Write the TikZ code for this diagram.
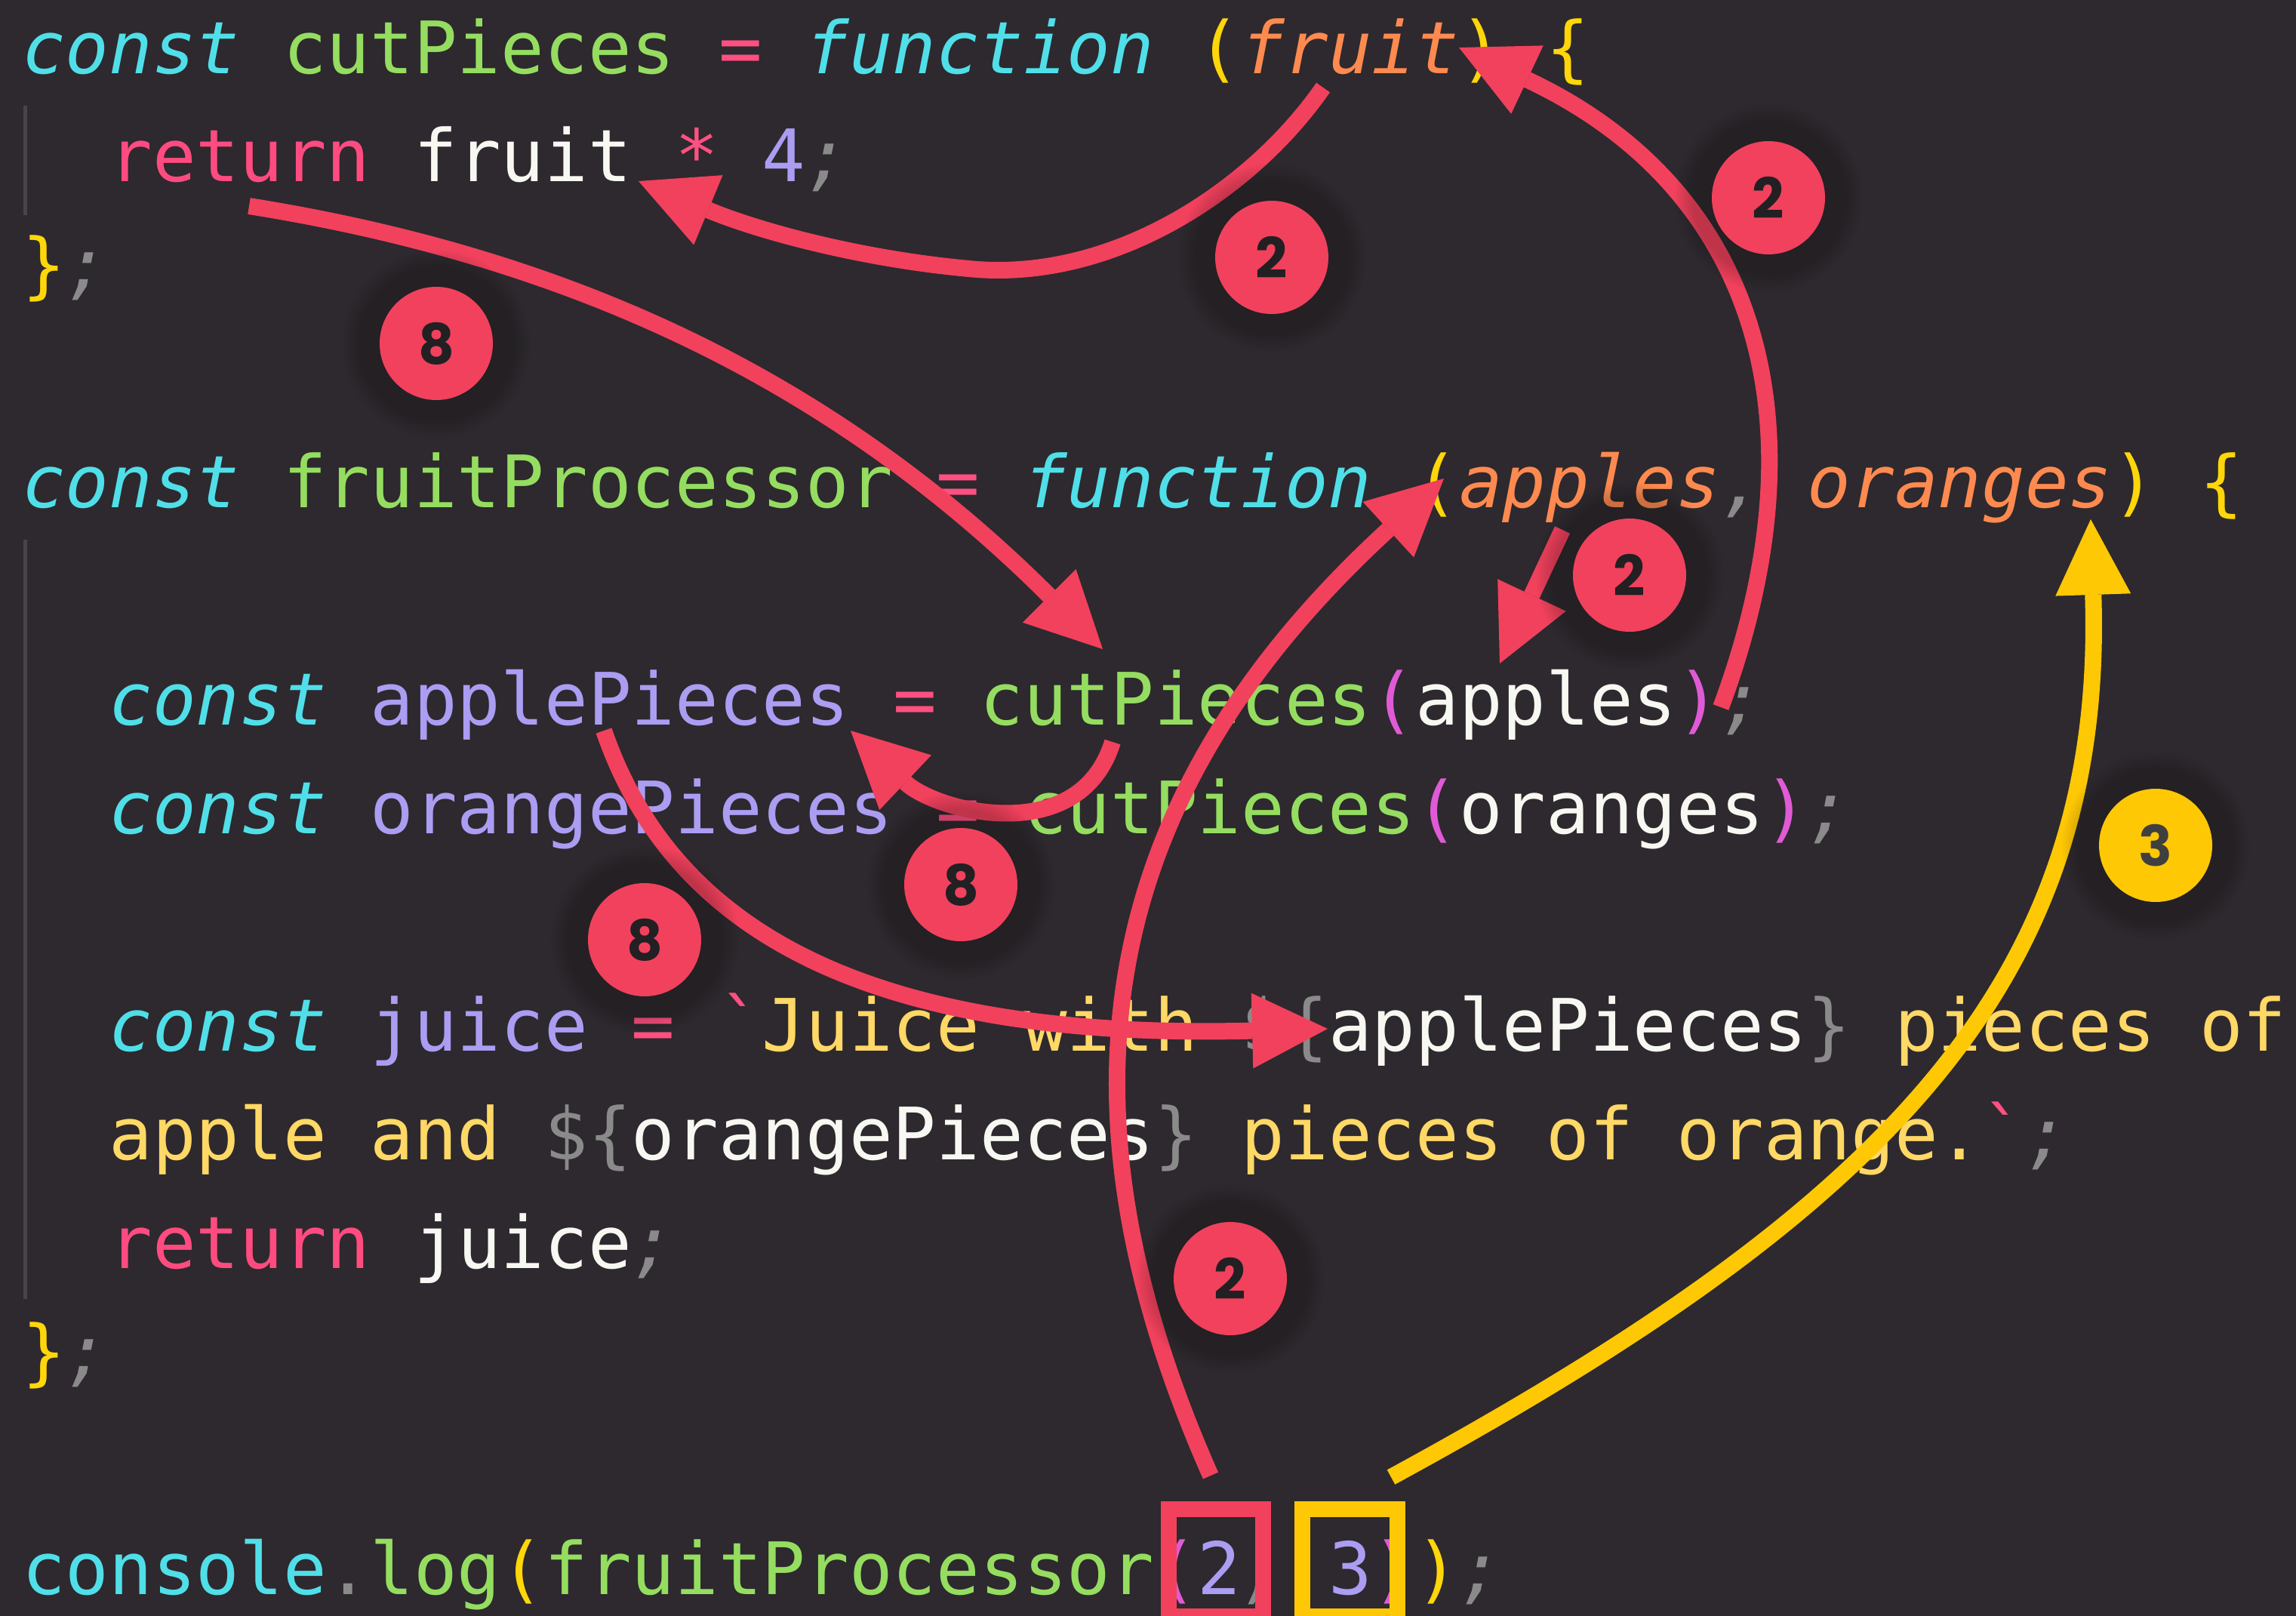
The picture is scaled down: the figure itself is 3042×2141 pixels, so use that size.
\documentclass[tikz,border=0pt]{standalone}
\usepackage{fontspec}
\setmonofont{DejaVu Sans Mono}
\newfontfamily\badgefont{Poppins}
\usetikzlibrary{arrows.meta,fadings}
\definecolor{bg}{RGB}{45,41,46}
\definecolor{kw}{RGB}{80,223,232}
\definecolor{fn}{RGB}{149,221,96}
\definecolor{op}{RGB}{255,80,130}
\definecolor{ret}{RGB}{255,75,128}
\definecolor{brc}{RGB}{255,214,10}
\definecolor{prm}{RGB}{255,138,80}
\definecolor{wht}{RGB}{248,248,242}
\definecolor{num}{RGB}{171,157,242}
\definecolor{semi}{RGB}{138,138,138}
\definecolor{mag}{RGB}{224,90,214}
\definecolor{str}{RGB}{255,216,102}
\definecolor{gutter}{RGB}{72,68,74}
\definecolor{mred}{RGB}{241,65,93}
\definecolor{myel}{RGB}{255,200,5}
\definecolor{dred}{RGB}{34,32,34}
\definecolor{dyel}{RGB}{63,63,63}
\newcommand\cK[1]{{\color{kw}\itshape #1}}
\newcommand\cC[1]{{\color{kw}#1}}
\newcommand\cF[1]{{\color{fn}#1}}
\newcommand\cO[1]{{\color{op}#1}}
\newcommand\cR[1]{{\color{ret}#1}}
\newcommand\cY[1]{{\color{brc}#1}}
\newcommand\cP[1]{{\color{prm}\itshape #1}}
\newcommand\cW[1]{{\color{wht}#1}}
\newcommand\cN[1]{{\color{num}#1}}
\newcommand\cS[1]{{\color{semi}\itshape #1}}
\newcommand\cG[1]{{\color{semi}#1}}
\newcommand\cM[1]{{\color{mag}#1}}
\newcommand\cT[1]{{\color{str}#1}}
\newcommand\cV[1]{{\color{num}#1}}
\begin{document}
\begin{tikzpicture}[x=1pt,y=-1pt,
  codeline/.style={anchor=base west,inner sep=0pt,outer sep=0pt,
    font=\ttfamily\fontsize{95.84}{110}\selectfont\frenchspacing},
  badge/.style={circle,minimum size=150pt,inner sep=0pt,
    font=\badgefont\bfseries\fontsize{74}{74}\selectfont},
  redbadge/.style={badge,fill=mred,text=dred},
  yelbadge/.style={badge,fill=myel,text=dyel},
  conn/.style={line width=22pt,-{Triangle[length=100pt,width=100pt,line width=0pt]}},
  redconn/.style={conn,mred},
  yelconn/.style={conn,myel},
  shadowc/.style={fill=black,opacity=0.2,path fading=circle with fuzzy edge 20 percent}]
\useasboundingbox (0,0) rectangle (3042,2141);
\fill[bg] (0,0) rectangle (3042,2141);
% gutter lines
\draw[gutter,line width=5pt] (33,140) -- (33,285);
\draw[gutter,line width=5pt] (33,715) -- (33,1721);
% code lines
\def\xa{29}\def\xb{144.4}
\node[codeline] (l1) at (\xa,97) {\cK{const} \cF{cutPieces} \cO{=} \cK{function} \cY{(}\cP{fruit}\cY{)} \cY{\{}};
\node[codeline] (l2) at (\xb,240.9) {\cR{return} \cW{fruit} \cO{*} \cN{4}\cS{;}};
\node[codeline] (l3) at (\xa,384.9) {\cY{\}}\cS{;}};
\node[codeline] (l5) at (\xa,672.7) {\cK{const} \cF{fruitProcessor} \cO{=} \cK{function} \cY{(}\cP{apples}\cS{,} \cP{oranges}\cY{)} \cY{\{}};
\node[codeline] (l7) at (\xb,960.6) {\cK{const} \cV{applePieces} \cO{=} \cF{cutPieces}\cM{(}\cW{apples}\cM{)}\cS{;}};
\node[codeline] (l8) at (\xb,1104.5) {\cK{const} \cV{orangePieces} \cO{=} \cF{cutPieces}\cM{(}\cW{oranges}\cM{)}\cS{;}};
\node[codeline] (l10) at (\xb,1392.4) {\cK{const} \cV{juice} \cO{=} \cO{`}\cT{Juice} \cT{with} \cG{\$\{}\cW{applePieces}\cG{\}} \cT{pieces} \cT{of}};
\node[codeline] (l11) at (\xb,1536.3) {\cT{apple} \cT{and} \cG{\$\{}\cW{orangePieces}\cG{\}} \cT{pieces} \cT{of} \cT{orange.}\cO{`}\cS{;}};
\node[codeline] (l12) at (\xb,1680.3) {\cR{return} \cW{juice}\cS{;}};
\node[codeline] (l13) at (\xa,1824.2) {\cY{\}}\cS{;}};
\node[codeline] (l15) at (\xa,2112) {\cC{console}\cG{.}\cF{log}\cY{(}\cF{fruitProcessor}\cM{(}\cN{2}\cS{,} \cN{3}\cM{)}\cY{)}\cS{;}};
% highlight boxes
\draw[mred,line width=21pt] (1548,1999.5) rectangle (1673.5,2141.5);
\draw[myel,line width=21pt] (1725,1999.5) rectangle (1851.5,2141.5);
% connector end points
\coordinate (a1s) at (1753,116);  \coordinate (a1e) at (846,240);
\coordinate (a2s) at (2280,937);  \coordinate (a2e) at (1933,63);
\coordinate (a3s) at (330,273);   \coordinate (a3e) at (1461,860);
\coordinate (a4s) at (2070,702);  \coordinate (a4e) at (1987,879);
\coordinate (a5s) at (1474,983);  \coordinate (a5e) at (1127,968);
\coordinate (a6s) at (800,968);   \coordinate (a6e) at (1759,1363);
\coordinate (a7s) at (1604,1955); \coordinate (a7e) at (1913,634);
\coordinate (a8s) at (1843,1957); \coordinate (a8e) at (2770,688);
% connectors
\draw[redconn] (a1s) .. controls (1660,250) and (1480,370) .. (1295,357)
   .. controls (1150,345) and (1010,308) .. (a1e);
\draw[redconn] (a2s) .. controls (2420,560) and (2330,250) .. (a2e);
\draw[redconn] (a3s) .. controls (750,340) and (1100,500) .. (a3e);
\draw[redconn] (a4s) -- (a4e);
\draw[redconn] (a5s) .. controls (1430,1125) and (1240,1075) .. (a5e);
\draw[redconn] (a6s) .. controls (880,1200) and (1100,1380) .. (a6e);
\draw[redconn] (a7s) .. controls (1380,1450) and (1460,1050) .. (a7e);
\draw[yelconn] (a8s) .. controls (2500,1600) and (2790,1300) .. (a8e);
% badges
\foreach \bx/\by in {1685/341,2343/262,578/455,2159/762,1273/1172,854/1245,1630/1694,2856/1120}{
  \fill[shadowc] (\bx,\by) circle (125);
}
\node[redbadge] (b1) at (1685,341) {2};
\node[redbadge] (b2) at (2343,262) {2};
\node[redbadge] (b3) at (578,455) {8};
\node[redbadge] (b4) at (2159,762) {2};
\node[redbadge] (b5) at (1273,1172) {8};
\node[redbadge] (b6) at (854,1245) {8};
\node[redbadge] (b7) at (1630,1694) {2};
\node[yelbadge] (b8) at (2856,1120) {3};
\end{tikzpicture}
\end{document}
